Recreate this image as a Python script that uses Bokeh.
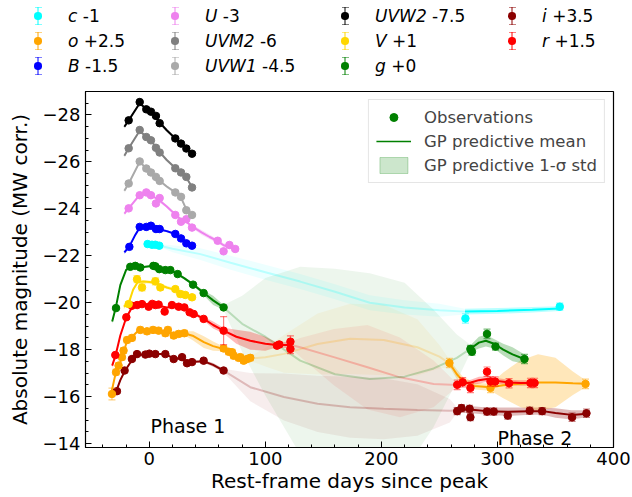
import numpy as np
from bokeh.plotting import figure
from bokeh.models import Range1d, FixedTicker, Label, Legend, LegendItem, CustomJSTickFormatter, Div
from bokeh.layouts import column
from bokeh.embed import file_html
from bokeh.resources import INLINE

FONT = "DejaVu Sans"

# ---------------- data (plotted, offset-included magnitudes) ----------------
band_names = ["c", "o", "B", "U", "UVM2", "UVW1", "UVW2", "V", "g", "i", "r"]
band_offsets = ["-1", "+2.5", "-1.5", "-3", "-6", "-4.5", "-7.5", "+1", "+0", "+3.5", "+1.5"]
band_colors = ["cyan", "orange", "blue", "violet", "gray", "darkgray", "black", "gold", "green", "darkred", "red"]

# UVW2
uvw2_obs_t = [-17.8, -8.3, -2.6, 1.4, 5.7, 8.9, 22.4, 27.3, 31.9, 36.8]
uvw2_obs_m = [-27.77, -28.55, -28.24, -28.14, -27.96, -27.65, -27.00, -26.78, -26.57, -26.35]
uvw2_obs_e = [0.06] * 10
uvw2_gp_t = [-21.5, -17.8, -8.3, -2.6, 1.4, 5.7, 8.9, 15.0, 22.4, 27.3, 31.9, 36.8]
uvw2_gp_m = [-27.5, -27.77, -28.5, -28.25, -28.12, -27.95, -27.68, -27.35, -27.0, -26.78, -26.57, -26.37]
uvw2_gp_s = [0.08, 0.05, 0.05, 0.05, 0.05, 0.05, 0.05, 0.06, 0.05, 0.05, 0.05, 0.06]

# UVM2
uvm2_obs_t = [-17.8, -8.3, -2.6, 1.4, 5.7, 8.9, 22.4, 27.3, 31.9, 36.8]
uvm2_obs_m = [-26.58, -27.36, -27.06, -26.92, -26.60, -26.40, -25.73, -25.55, -25.36, -24.91]
uvm2_obs_e = [0.06] * 10
uvm2_gp_t = [-21.5, -17.8, -8.3, -2.6, 1.4, 5.7, 8.9, 15.0, 22.4, 27.3, 31.9, 36.8]
uvm2_gp_m = [-26.26, -26.58, -27.33, -27.06, -26.92, -26.62, -26.42, -26.08, -25.74, -25.55, -25.33, -24.93]
uvm2_gp_s = [0.08, 0.05, 0.05, 0.05, 0.05, 0.05, 0.05, 0.06, 0.05, 0.05, 0.05, 0.06]

# UVW1
uvw1_obs_t = [-17.8, -8.3, -2.6, 1.4, 5.7, 8.9, 22.4, 27.3, 31.9, 36.8]
uvw1_obs_m = [-25.08, -26.02, -25.72, -25.55, -25.36, -25.19, -24.70, -24.51, -23.94, -23.74]
uvw1_obs_e = [0.06] * 10
uvw1_gp_t = [-21.5, -17.8, -8.3, -2.6, 1.4, 5.7, 8.9, 15.0, 22.4, 27.3, 31.9, 36.8]
uvw1_gp_m = [-24.77, -25.08, -26.0, -25.72, -25.55, -25.36, -25.2, -24.95, -24.7, -24.48, -23.98, -23.74]
uvw1_gp_s = [0.08, 0.05, 0.05, 0.05, 0.05, 0.05, 0.05, 0.06, 0.05, 0.05, 0.05, 0.06]

# U
u_obs_t = [-17.8, -8.3, -2.6, 1.4, 5.7, 8.9, 22.4, 27.3, 31.9, 36.8, 58.9, 64.0, 69.0, 74.0]
u_obs_m = [-24.02, -24.58, -24.70, -24.58, -24.23, -24.46, -23.74, -23.45, -23.56, -23.20, -22.64, -22.19, -22.46, -22.29]
u_obs_e = [0.06] * 10 + [0.08] * 4
u_gp_t = [-21.5, -17.8, -8.3, -3.0, 1.4, 5.7, 8.9, 15.0, 22.4, 27.3, 31.9, 36.8, 45.0, 52.0, 58.9, 64.0, 69.0, 74.0]
u_gp_m = [-23.8, -24.02, -24.6, -24.68, -24.6, -24.45, -24.35, -24.1, -23.76, -23.55, -23.45, -23.25, -23.0, -22.8, -22.62, -22.45, -22.37, -22.3]
u_gp_s = [0.08, 0.05, 0.05, 0.05, 0.05, 0.05, 0.05, 0.06, 0.06, 0.06, 0.06, 0.07, 0.1, 0.1, 0.08, 0.08, 0.08, 0.08]

# B
b_obs_t = [-17.2, -8.3, -2.6, 1.4, 5.7, 8.9, 22.4, 27.3, 31.9, 36.8]
b_obs_m = [-22.38, -23.23, -23.23, -23.28, -23.14, -23.14, -22.93, -22.74, -22.53, -22.43]
b_obs_e = [0.06] * 10
b_gp_t = [-21.5, -17.2, -12.0, -8.3, -2.6, 1.4, 5.7, 8.9, 15.0, 22.4, 27.3, 31.9, 36.8]
b_gp_m = [-22.14, -22.4, -22.9, -23.2, -23.22, -23.25, -23.15, -23.12, -23.05, -22.93, -22.74, -22.53, -22.43]
b_gp_s = [0.08, 0.05, 0.05, 0.05, 0.05, 0.05, 0.05, 0.05, 0.05, 0.05, 0.05, 0.05, 0.06]

# c
c_obs_t = [-1.5, 2.3, 5.2, 8.6, 272.4, 353.7]
c_obs_m = [-22.50, -22.47, -22.47, -22.43, -19.33, -19.83]
c_obs_e = [0.05, 0.05, 0.05, 0.05, 0.2, 0.15]
c_gp_t = [-3, 0, 5, 9, 20, 44, 70, 100, 130, 160, 190, 220, 250, 272, 300, 330, 354]
c_gp_m = [-22.5, -22.5, -22.47, -22.43, -22.3, -22.07, -21.7, -21.3, -20.9, -20.47, -20.0, -19.8, -19.68, -19.62, -19.65, -19.7, -19.75]
c_gp_s = [0.08, 0.05, 0.05, 0.06, 0.15, 0.25, 0.3, 0.32, 0.32, 0.32, 0.32, 0.3, 0.28, 0.12, 0.12, 0.12, 0.1]

# V
v_obs_t = [-17.8, -10.6, -6.3, 5.2, 9.5, 22.4, 26.7, 31.0, 36.8]
v_obs_m = [-19.94, -21.00, -20.65, -20.91, -20.65, -20.58, -20.37, -20.33, -20.23]
v_obs_e = [0.1, 0.15, 0.15, 0.15, 0.1, 0.1, 0.12, 0.1, 0.1]
v_gp_t = [-22, -17.8, -14, -10, -5, 0, 5, 10, 15, 20, 25, 30, 37]
v_gp_m = [-19.83, -19.97, -20.55, -20.88, -20.9, -20.88, -20.85, -20.75, -20.65, -20.58, -20.45, -20.35, -20.23]
v_gp_s = [0.1, 0.07, 0.07, 0.07, 0.07, 0.07, 0.07, 0.07, 0.07, 0.07, 0.07, 0.07, 0.08]

# g
g_obs_t = [-28.7, -16.4, -12.1, -7.8, 3.5, 5.2, 8.6, 13.8, 18.1, 24.4, 37.7, 46.8, 64.0, 276.7, 278.0, 291.0, 298.3, 323.3]
g_obs_m = [-19.77, -21.53, -21.57, -21.50, -21.57, -21.55, -21.43, -21.39, -21.39, -21.22, -20.77, -20.41, -19.80, -18.03, -17.91, -18.67, -18.13, -17.60]
g_obs_e = [0.05] * 13 + [0.15, 0.15, 0.2, 0.15, 0.2]
g_gp_t = [-32, -29, -25, -20, -16, -10, -5, 0, 5, 10, 15, 20, 25, 30, 38, 47, 55, 64, 80, 100, 130, 160, 190, 220, 245, 265, 277, 284, 290, 297, 305, 313, 323]
g_gp_m = [-19.2, -19.77, -20.75, -21.4, -21.53, -21.53, -21.52, -21.55, -21.55, -21.45, -21.4, -21.35, -21.2, -21.05, -20.77, -20.41, -20.1, -19.8, -19.1, -18.55, -17.53, -16.95, -16.75, -16.85, -17.2, -17.65, -18.05, -18.3, -18.38, -18.25, -18.0, -17.8, -17.6]
g_gp_s = [0.1, 0.05, 0.06, 0.05, 0.04, 0.04, 0.04, 0.04, 0.04, 0.04, 0.04, 0.04, 0.05, 0.06, 0.06, 0.1, 0.2, 0.1, 1.2, 2.5, 4.0, 4.5, 4.5, 4.0, 2.5, 1.0, 0.15, 0.25, 0.25, 0.2, 0.25, 0.3, 0.2]

# r
r_obs_t = [-29.3, -19.8, -15.0, -10.5, -6.3, -0.6, 2.5, 5.2, 8.0, 13.2, 19.5, 25.3, 30.2, 34.7, 38.2, 46.8, 64.0, 110.0, 112.0, 121.6, 121.6,
           265.3, 270.0, 276.7, 291.0, 294.0, 298.0, 310.0, 328.4, 332.0]
r_obs_m = [-17.77, -19.38, -19.87, -19.90, -19.94, -19.83, -19.95, -19.90, -19.92, -19.62, -19.90, -19.83, -19.80, -19.59, -19.52, -19.31, -18.81, -18.17, -18.22, -18.34, -18.03,
           -16.50, -16.61, -16.37, -17.06, -16.64, -16.64, -16.57, -16.58, -16.58]
r_obs_e = [0.06] * 16 + [0.6, 0.1, 0.1, 0.25, 0.2] + [0.2] * 9
r_gp_t = [-32, -29, -25, -20, -15, -10, -5, 0, 5, 10, 15, 20, 25, 30, 38, 47, 55, 64, 75, 87, 100, 110, 122, 130, 159, 188, 216, 245, 260, 265, 270, 277, 284, 291, 298, 310, 320, 332]
r_gp_m = [-17.32, -17.77, -18.6, -19.35, -19.8, -19.92, -19.93, -19.88, -19.88, -19.85, -19.8, -19.82, -19.8, -19.75, -19.55, -19.31, -19.05, -18.81, -18.55, -18.38, -18.25, -18.2, -18.2, -18.1, -17.68, -17.25, -16.82, -16.54, -16.5, -16.5, -16.55, -16.6, -16.7, -16.75, -16.68, -16.6, -16.58, -16.58]
r_gp_s = [0.1, 0.06, 0.06, 0.05, 0.04, 0.04, 0.04, 0.04, 0.04, 0.04, 0.04, 0.04, 0.04, 0.05, 0.06, 0.08, 0.15, 0.12, 0.3, 0.38, 0.3, 0.1, 0.15, 0.4, 1.2, 1.8, 1.7, 1.0, 0.3, 0.1, 0.1, 0.12, 0.15, 0.12, 0.12, 0.12, 0.12, 0.12]

# o
o_obs_t = [-32.2, -28.7, -26.5, -23.6, -22.2, -19.2, -15.0, -7.8, -2.0, 3.2, 8.0, 13.8, 16.0, 21.0, 25.3, 30.2,
           64.0, 68.4, 71.3, 72.7, 77.0, 78.4, 81.3, 84.2, 87.0, 258.6, 294.0, 375.9]
o_obs_m = [-16.11, -17.04, -17.32, -17.68, -17.96, -18.41, -18.50, -18.84, -18.78, -18.84, -18.81, -18.70, -18.84, -18.60, -18.67, -18.70,
           -18.05, -17.91, -17.89, -17.74, -17.65, -17.68, -17.53, -17.60, -17.65, -17.43, -16.37, -16.54]
o_obs_e = [0.25] + [0.12] * 24 + [0.2, 0.2, 0.2]
o_gp_t = [-33, -29, -26, -23, -20, -15, -10, -5, 0, 5, 10, 15, 20, 25, 30, 38, 47, 55, 64, 72, 80, 87, 100, 116, 145, 173, 202, 231, 250, 259, 265, 270, 280, 294, 305, 320, 335, 350, 365, 376]
o_gp_m = [-16.1, -17.0, -17.35, -17.72, -18.25, -18.55, -18.78, -18.82, -18.83, -18.83, -18.8, -18.72, -18.66, -18.68, -18.7, -18.58, -18.32, -18.15, -18.03, -17.8, -17.65, -17.62, -17.68, -17.82, -18.24, -18.46, -18.41, -18.1, -17.7, -17.4, -16.95, -16.68, -16.45, -16.4, -16.48, -16.55, -16.6, -16.6, -16.57, -16.55]
o_gp_s = [0.15, 0.08, 0.06, 0.06, 0.06, 0.05, 0.05, 0.05, 0.05, 0.05, 0.05, 0.05, 0.05, 0.06, 0.08, 0.2, 0.25, 0.2, 0.1, 0.08, 0.08, 0.1, 0.4, 0.8, 1.3, 1.5, 1.5, 1.2, 0.5, 0.15, 0.2, 0.18, 0.15, 0.15, 0.55, 1.0, 1.2, 1.05, 0.5, 0.15]

# i
i_obs_t = [-27.9, -21.3, -15.0, -10.6, -3.4, 0.0, 5.2, 13.8, 21.0, 28.2, 32.5, 36.8, 46.8, 64.0,
           265.3, 269.0, 276.0, 276.7, 291.0, 296.8, 308.9, 327.8, 338.5, 364.3, 376.7]
i_obs_m = [-16.23, -17.11, -17.60, -17.81, -17.79, -17.83, -17.81, -17.81, -17.60, -17.68, -17.42, -17.47, -17.53, -17.11,
           -15.38, -15.51, -15.48, -15.12, -15.36, -15.36, -15.19, -15.40, -15.38, -15.12, -15.29]
i_obs_e = [0.08] * 14 + [0.15, 0.15, 0.15, 0.15, 0.15, 0.15, 0.15, 0.15, 0.15, 0.18, 0.18]
i_gp_t = [-31, -28, -25, -21, -15, -10, -5, 0, 5, 10, 15, 20, 25, 30, 37, 47, 55, 64, 87, 116, 145, 173, 202, 231, 259, 265, 276, 291, 309, 328, 339, 350, 364, 377]
i_gp_m = [-16.26, -16.3, -16.7, -17.1, -17.55, -17.75, -17.8, -17.81, -17.81, -17.81, -17.78, -17.65, -17.62, -17.55, -17.48, -17.5, -17.35, -17.11, -16.4, -15.98, -15.69, -15.55, -15.48, -15.43, -15.4, -15.42, -15.45, -15.38, -15.35, -15.38, -15.38, -15.3, -15.22, -15.27]
i_gp_s = [0.1, 0.06, 0.06, 0.05, 0.05, 0.05, 0.05, 0.05, 0.05, 0.05, 0.05, 0.05, 0.05, 0.05, 0.05, 0.06, 0.08, 0.08, 0.6, 1.0, 1.2, 1.3, 1.3, 1.1, 0.5, 0.12, 0.15, 0.15, 0.18, 0.15, 0.15, 0.2, 0.2, 0.15]

x_ticks = [0, 100, 200, 300, 400]
y_ticks = [-28, -26, -24, -22, -20, -18, -16, -14]

series = {
    "c": (c_obs_t, c_obs_m, c_obs_e, c_gp_t, c_gp_m, c_gp_s),
    "o": (o_obs_t, o_obs_m, o_obs_e, o_gp_t, o_gp_m, o_gp_s),
    "B": (b_obs_t, b_obs_m, b_obs_e, b_gp_t, b_gp_m, b_gp_s),
    "U": (u_obs_t, u_obs_m, u_obs_e, u_gp_t, u_gp_m, u_gp_s),
    "UVM2": (uvm2_obs_t, uvm2_obs_m, uvm2_obs_e, uvm2_gp_t, uvm2_gp_m, uvm2_gp_s),
    "UVW1": (uvw1_obs_t, uvw1_obs_m, uvw1_obs_e, uvw1_gp_t, uvw1_gp_m, uvw1_gp_s),
    "UVW2": (uvw2_obs_t, uvw2_obs_m, uvw2_obs_e, uvw2_gp_t, uvw2_gp_m, uvw2_gp_s),
    "V": (v_obs_t, v_obs_m, v_obs_e, v_gp_t, v_gp_m, v_gp_s),
    "g": (g_obs_t, g_obs_m, g_obs_e, g_gp_t, g_gp_m, g_gp_s),
    "i": (i_obs_t, i_obs_m, i_obs_e, i_gp_t, i_gp_m, i_gp_s),
    "r": (r_obs_t, r_obs_m, r_obs_e, r_gp_t, r_gp_m, r_gp_s),
}
colors = dict(zip(band_names, band_colors))

# ---------------- main figure ----------------
p = figure(width=632, height=411, output_backend="svg", toolbar_location=None,
           x_range=Range1d(-55, 400), y_range=Range1d(-13.83, -29.0),
           min_border_left=85, min_border_right=19, min_border_top=5, min_border_bottom=50)
p.grid.visible = False
p.outline_line_color = "black"
p.outline_line_width = 1.2
p.background_fill_color = "white"

p.xaxis.ticker = FixedTicker(ticks=x_ticks, minor_ticks=list(range(-40, 401, 20)))
p.yaxis.ticker = FixedTicker(ticks=y_ticks, minor_ticks=[-29 + 0.5 * k for k in range(31)])
p.yaxis.formatter = CustomJSTickFormatter(code="return (tick < 0 ? '\\u2212' : '') + Math.abs(tick).toFixed(0);")
for ax in (p.xaxis[0], p.yaxis[0]):
    ax.major_tick_in = 6
    ax.major_tick_out = 0
    ax.minor_tick_in = 3
    ax.minor_tick_out = 0
    ax.axis_line_color = "black"
    ax.major_tick_line_color = "black"
    ax.minor_tick_line_color = "black"
    ax.major_label_text_font = FONT
    ax.major_label_text_font_size = "18px"
    ax.major_label_text_color = "black"
    ax.axis_label_text_font = FONT
    ax.axis_label_text_font_size = "20px"
    ax.axis_label_text_font_style = "normal"
    ax.axis_label_text_color = "black"
p.xaxis.axis_label = "Rest-frame days since peak"
p.yaxis.axis_label = "Absolute magnitude (MW corr.)"
p.xaxis.major_label_standoff = 4
p.xaxis.axis_label_standoff = 1
p.yaxis.major_label_standoff = 5
p.yaxis.axis_label_standoff = 8


def runs_for(obs_t, gp_t):
    ot = np.asarray(obs_t, float)
    gt = np.asarray(gp_t, float)
    n = len(gt)
    d = np.diff(ot)
    if (d > 100).any():
        k = int(np.argmax(d > 100))
        ia = int(np.argmin(np.abs(gt - ot[k])))
        ib = int(np.argmin(np.abs(gt - ot[k + 1])))
        return [(0, ia, False), (ia, ib, True), (ib, n - 1, False)]
    return [(0, n - 1, False)]


draw_order = ["i", "o", "r", "g", "V", "c", "B", "U", "UVW1", "UVM2", "UVW2"]

for b in draw_order:
    ot, om, oe, gt, gm, gs = series[b]
    gt = np.asarray(gt, float); gm = np.asarray(gm, float); gs = np.asarray(gs, float)
    for a, z, gap in runs_for(ot, gt):
        sl = slice(a, z + 1)
        p.varea(x=gt[sl], y1=gm[sl] - gs[sl], y2=gm[sl] + gs[sl], fill_color=colors[b],
                fill_alpha=0.07 if gap else 0.27)
for b in draw_order:
    ot, om, oe, gt, gm, gs = series[b]
    gt = np.asarray(gt, float); gm = np.asarray(gm, float)
    for a, z, gap in runs_for(ot, gt):
        sl = slice(a, z + 1)
        p.line(gt[sl], gm[sl], line_color=colors[b], line_width=2,
               line_alpha=0.22 if gap else 1.0)
for b in draw_order:
    ot, om, oe, gt, gm, gs = series[b]
    ot = np.asarray(ot, float); om = np.asarray(om, float); oe = np.asarray(oe, float)
    p.segment(x0=ot, y0=om - oe, x1=ot, y1=om + oe, line_color=colors[b], line_alpha=0.5, line_width=1.2)
    p.scatter(np.concatenate([ot, ot]), np.concatenate([om - oe, om + oe]), marker="dash", size=7,
              line_color=colors[b], line_alpha=0.5, line_width=1.2)
    p.scatter(ot, om, marker="circle", size=7.5, fill_color=colors[b], line_color=colors[b])

p.add_layout(Label(x=1, y=-14.75, text="Phase 1", text_font=FONT, text_font_size="19px",
                   text_baseline="middle", text_color="black"))
p.add_layout(Label(x=300, y=-14.22, text="Phase 2", text_font=FONT, text_font_size="19px",
                   text_baseline="middle", text_color="black"))

# in-plot legend (its sample renderers sit outside the visible range)
r_obs = p.scatter([-1000], [-20], marker="circle", size=9, fill_color="green", line_color="green")
r_mean = p.line([-1000, -990], [-20, -20], line_color="green", line_width=1.6)
r_std = p.patch([-1000, -990, -990], [-20, -20, -21], fill_color="green", fill_alpha=0.2,
                line_color="green", line_alpha=0.25)
leg = Legend(items=[LegendItem(label="Observations", renderers=[r_obs]),
                    LegendItem(label="GP predictive mean", renderers=[r_mean]),
                    LegendItem(label="GP predictive 1-σ std", renderers=[r_std])],
             location="top_right", margin=8, padding=7, spacing=4, glyph_width=35, glyph_height=20,
             label_standoff=13, label_text_font=FONT, label_text_font_size="16.5px",
             border_line_color="#cccccc", border_line_width=1, background_fill_alpha=0.8)
p.add_layout(leg)

# ---------------- top band legend (HTML block above the plot) ----------------
col_x = [38, 175, 345, 512]
row_y = [16, 41, 66]
parts = ['<div style="position:relative;width:632px;height:86px;font-family:\'DejaVu Sans\';'
         'font-size:17px;color:black;">']
for k, (nm, off, colr) in enumerate(zip(band_names, band_offsets, band_colors)):
    cx = col_x[k // 3]
    cy = row_y[k % 3]
    parts.append('<div style="position:absolute;left:%.1fpx;top:%.1fpx;width:1.2px;height:18px;'
                 'background:%s;opacity:0.5"></div>' % (cx - 0.6, cy - 9, colr))
    for yy in (cy - 9, cy + 8):
        parts.append('<div style="position:absolute;left:%.1fpx;top:%.1fpx;width:7px;height:1.2px;'
                     'background:%s;opacity:0.5"></div>' % (cx - 3.5, yy, colr))
    parts.append('<div style="position:absolute;left:%.1fpx;top:%.1fpx;width:7.5px;height:7.5px;'
                 'border-radius:50%%;background:%s"></div>' % (cx - 3.75, cy - 3.75, colr))
    parts.append('<div style="position:absolute;left:%dpx;top:%dpx;transform:translateY(-50%%);'
                 'white-space:nowrap;line-height:1.2"><i>%s</i>&nbsp;%s</div>' % (cx + 30, cy, nm, off))
parts.append('</div>')
top_legend = Div(text="".join(parts), width=632, height=86, margin=(0, 0, 0, 0))

layout = column(top_legend, p, spacing=0)
open("out.html", "w").write(file_html(layout, INLINE))
